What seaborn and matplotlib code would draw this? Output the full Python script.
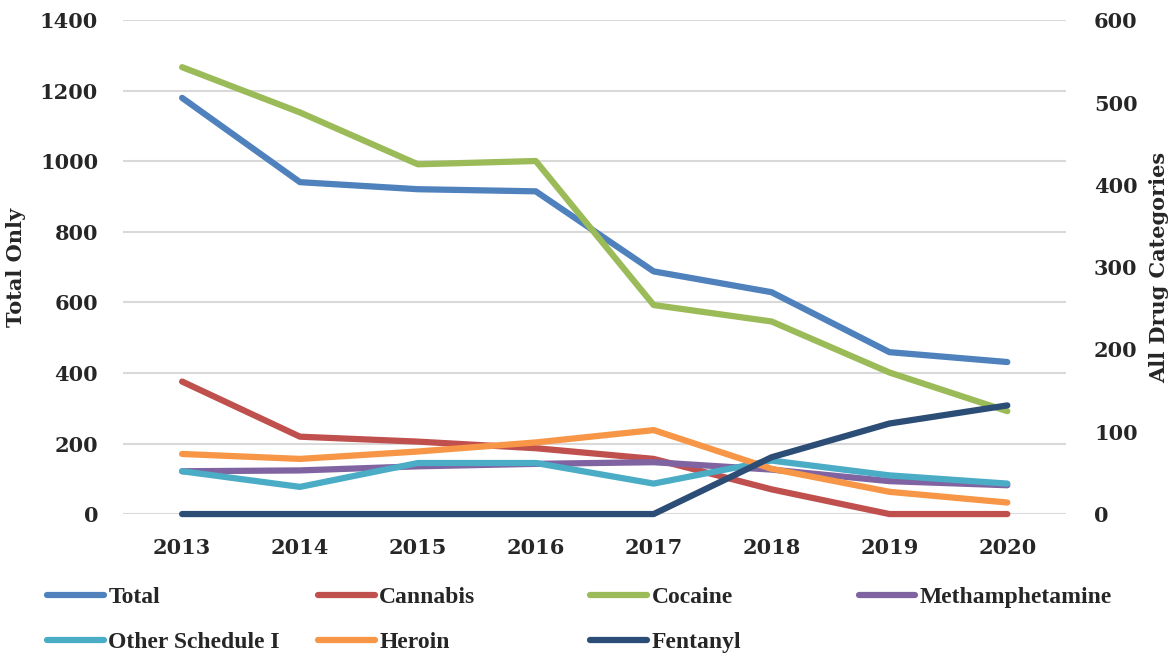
import matplotlib
matplotlib.use("Agg")
import matplotlib.pyplot as plt
import seaborn as sns
import pandas as pd
from matplotlib.lines import Line2D

years = ["2013", "2014", "2015", "2016", "2017", "2018", "2019", "2020"]
total = [1180, 941, 921, 915, 688, 629, 459, 431]
cannabis = [161, 94, 88, 80, 67, 30, 0, 0]
cocaine = [543, 488, 425, 429, 254, 234, 172, 125]
meth = [52, 53, 58, 61, 63, 54, 40, 35]
other_sched = [52, 33, 62, 62, 37, 65, 47, 37]
heroin = [73, 67, 76, 87, 102, 55, 27, 14]
fentanyl = [0, 0, 0, 0, 0, 69, 110, 132]

right_series = ["Cannabis", "Cocaine", "Methamphetamine", "Other Schedule I", "Heroin", "Fentanyl"]
right_values = [cannabis, cocaine, meth, other_sched, heroin, fentanyl]
colors = {
    "Total": "#4F81BD",
    "Cannabis": "#C0504D",
    "Cocaine": "#9BBB59",
    "Methamphetamine": "#8064A2",
    "Other Schedule I": "#4BACC6",
    "Heroin": "#F79646",
    "Fentanyl": "#2C4D75",
}

sns.set_style("white")
plt.rcParams["font.family"] = ["DejaVu Serif"]
plt.rcParams["font.weight"] = "bold"

fig = plt.figure(figsize=(11.73, 6.54), dpi=100)
ax = fig.add_axes([0.105, 0.214, 0.804, 0.755])
ax2 = ax.twinx()

xpos = list(range(len(years)))
lw = 4.5

df_total = pd.DataFrame({"x": xpos, "y": total})
sns.lineplot(data=df_total, x="x", y="y", ax=ax, color=colors["Total"], linewidth=lw, zorder=3)

long = pd.DataFrame({
    "x": xpos * len(right_series),
    "y": [v for vals in right_values for v in vals],
    "series": [s for s in right_series for _ in years],
})
sns.lineplot(data=long, x="x", y="y", hue="series", hue_order=right_series,
             palette=colors, ax=ax2, linewidth=lw, legend=False)
for ln in ax.get_lines() + ax2.get_lines():
    ln.set_solid_capstyle("round")
    ln.set_solid_joinstyle("round")
    ln.set_clip_on(False)

ax.set_xlim(-0.5, len(years) - 0.5)
ax.set_ylim(0, 1400)
ax.set_yticks(range(0, 1401, 200))
ax2.set_ylim(0, 600)
ax2.set_yticks(range(0, 601, 100))
ax.set_xticks(xpos)
ax.set_xticklabels(years)

ax.grid(axis="y", color="#D9D9D9", linewidth=1.5)
ax.set_axisbelow(True)
for a in (ax, ax2):
    for sp in a.spines.values():
        sp.set_visible(False)
    a.tick_params(length=0, labelsize=15)
    for t in a.get_xticklabels() + a.get_yticklabels():
        t.set_fontweight("bold")
ax.tick_params(axis="y", pad=18)
ax2.tick_params(axis="y", pad=20)
ax.tick_params(axis="x", pad=17)

ax.set_xlabel("")
ax.set_ylabel("Total Only", fontsize=15, fontweight="bold", labelpad=10)
ax2.set_ylabel("All Drug Categories", fontsize=15, fontweight="bold", labelpad=8)

# legend: four equally spaced columns, two rows
columns = [["Total", "Other Schedule I"], ["Cannabis", "Heroin"],
           ["Cocaine", "Fentanyl"], ["Methamphetamine"]]
col_x = [0.032, 0.263, 0.495, 0.724]
for names, x0 in zip(columns, col_x):
    handles = [Line2D([0], [0], color=colors[n], linewidth=lw, solid_capstyle="round") for n in names]
    fig.legend(handles, names, loc="upper left", bbox_to_anchor=(x0, 0.118),
               frameon=False, handlelength=2.4, handletextpad=0.2,
               prop={"family": "Liberation Serif", "weight": "bold", "size": 17},
               labelspacing=1.0, borderaxespad=0)

fig.savefig("out.png", dpi=100)
